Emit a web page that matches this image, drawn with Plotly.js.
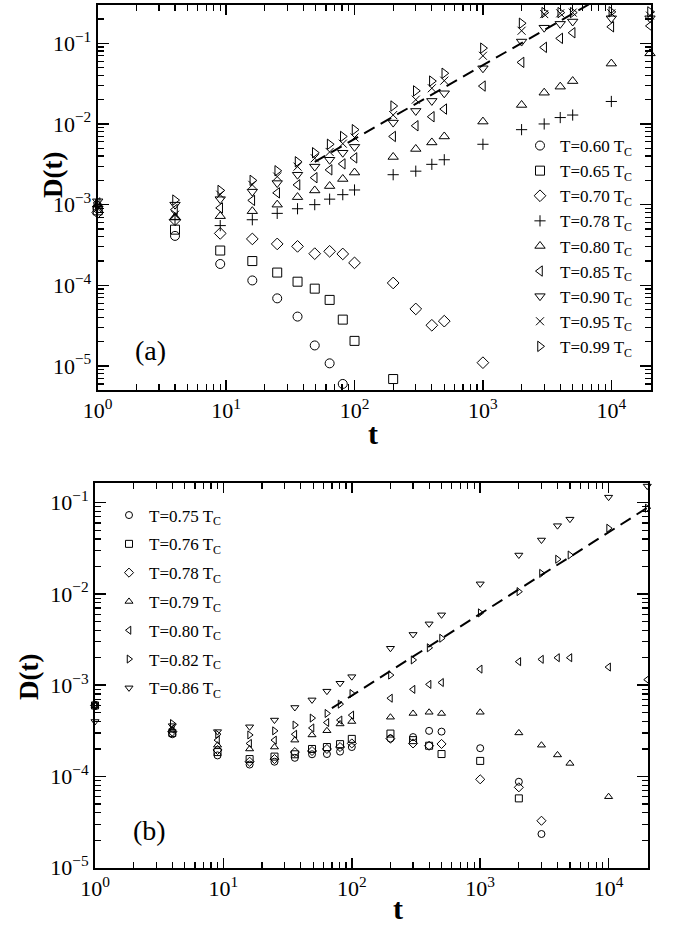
<!DOCTYPE html>
<html>
<head>
<meta charset="utf-8">
<script src="https://cdn.plot.ly/plotly-3.0.1.min.js"></script>
<style>html,body{margin:0;padding:0;background:#fff}#chart{width:673px;height:927px}</style>
</head>
<body>
<div id="chart"></div>
<script>
// ---------- DATA ----------
var times = [1,4,9,16,25,36,49,64,81,100,200,300,400,500,1000,2000,3000,4000,5000,10000,20000];

// panel (a)
var labelsA = ['T=0.60 T<sub>C</sub>','T=0.65 T<sub>C</sub>','T=0.70 T<sub>C</sub>','T=0.78 T<sub>C</sub>','T=0.80 T<sub>C</sub>','T=0.85 T<sub>C</sub>','T=0.90 T<sub>C</sub>','T=0.95 T<sub>C</sub>','T=0.99 T<sub>C</sub>'];
var a060 = [9e-4,4.1e-4,1.84e-4,1.15e-4,6.9e-5,4.1e-5,1.8e-5,1.08e-5,6e-6,null,null,null,null,null,null,null,null,null,null,null,null];
var a065 = [8.5e-4,4.9e-4,2.7e-4,2.0e-4,1.44e-4,1.11e-4,9.1e-5,6.6e-5,3.76e-5,2.05e-5,6.9e-6,null,null,null,null,null,null,null,null,null,null];
var a070 = [8e-4,6.5e-4,4.4e-4,3.76e-4,3.26e-4,3.04e-4,2.47e-4,2.64e-4,2.45e-4,1.9e-4,1.07e-4,5.1e-5,3.2e-5,3.6e-5,1.1e-5,null,null,null,null,null,null];
var a078 = [9.5e-4,6.5e-4,5.5e-4,6.5e-4,7.8e-4,8.9e-4,1.0e-3,1.17e-3,1.33e-3,1.52e-3,2.35e-3,2.6e-3,3.16e-3,3.6e-3,5.6e-3,8.5e-3,1.0e-2,1.2e-2,1.29e-2,1.9e-2,null];
var a080 = [1e-3,7e-4,7.2e-4,8.3e-4,1.0e-3,1.24e-3,1.5e-3,1.7e-3,2.08e-3,2.5e-3,3.9e-3,4.9e-3,5.9e-3,7.0e-3,1.07e-2,1.72e-2,2.44e-2,2.9e-2,3.4e-2,5.6e-2,7.5e-2];
var a085 = [1.05e-3,8.7e-4,9.1e-4,1.13e-3,1.4e-3,1.76e-3,2.16e-3,2.7e-3,3.2e-3,3.8e-3,7.0e-3,9.5e-3,1.23e-2,1.53e-2,2.95e-2,5.8e-2,8.9e-2,0.115,0.135,0.16,0.164];
var a090 = [1.1e-3,1e-3,1.17e-3,1.45e-3,1.85e-3,2.35e-3,2.96e-3,3.6e-3,4.4e-3,5.2e-3,1.04e-2,1.45e-2,1.93e-2,2.4e-2,4.9e-2,0.105,0.156,0.174,0.186,0.204,0.204];
var a095 = [9e-4,7.5e-4,1.33e-3,1.76e-3,2.23e-3,2.96e-3,3.76e-3,4.5e-3,5.7e-3,6.8e-3,1.29e-2,2.0e-2,2.77e-2,3.44e-2,7.0e-2,0.143,0.23,0.235,0.24,0.235,0.22];
var a099 = [1.0e-3,1.14e-3,1.5e-3,2.0e-3,2.63e-3,3.4e-3,4.4e-3,5.6e-3,7.0e-3,8.5e-3,1.67e-2,2.57e-2,3.4e-2,4.25e-2,8.7e-2,0.177,0.24,0.24,0.24,0.245,0.245];
var fitA_t = [49, 10000];
var fitA_D = [3.4e-3, 0.438];

// panel (b)
var labelsB = ['T=0.75 T<sub>C</sub>','T=0.76 T<sub>C</sub>','T=0.78 T<sub>C</sub>','T=0.79 T<sub>C</sub>','T=0.80 T<sub>C</sub>','T=0.82 T<sub>C</sub>','T=0.86 T<sub>C</sub>'];
var b075 = [6e-4,2.9e-4,1.7e-4,1.35e-4,1.45e-4,1.6e-4,1.75e-4,1.76e-4,1.87e-4,2.1e-4,2.6e-4,2.7e-4,3.16e-4,3.1e-4,2.04e-4,8.75e-5,2.34e-5,null,null,null,null];
var b076 = [6e-4,3.0e-4,1.85e-4,1.55e-4,1.65e-4,1.75e-4,2.0e-4,2.1e-4,2.26e-4,2.58e-4,2.95e-4,2.5e-4,2.17e-4,1.76e-4,1.48e-4,5.75e-5,null,null,null,null,null];
var b078 = [6e-4,3.1e-4,1.95e-4,1.45e-4,1.55e-4,1.85e-4,1.9e-4,2.0e-4,2.1e-4,2.3e-4,2.6e-4,2.3e-4,2.17e-4,2.27e-4,9.3e-5,7.6e-5,3.27e-5,null,null,null,null];
var b079 = [6e-4,3.2e-4,2.2e-4,2.0e-4,2.1e-4,2.5e-4,2.85e-4,3.17e-4,3.76e-4,4.0e-4,4.46e-4,4.9e-4,5.05e-4,4.9e-4,5.05e-4,3.0e-4,2.2e-4,1.72e-4,1.39e-4,6.0e-5,null];
var b080 = [6e-4,3.3e-4,2.5e-4,2.3e-4,2.5e-4,2.9e-4,3.4e-4,3.9e-4,4.15e-4,4.7e-4,7.2e-4,9.0e-4,1.02e-3,1.07e-3,1.5e-3,1.81e-3,1.92e-3,2.0e-3,2.0e-3,1.58e-3,1.15e-3];
var b082 = [6e-4,3.8e-4,2.9e-4,2.85e-4,3.16e-4,3.66e-4,4.36e-4,4.9e-4,6.2e-4,8.1e-4,1.29e-3,1.89e-3,2.57e-3,3.27e-3,6.2e-3,1.06e-2,1.68e-2,2.4e-2,2.67e-2,5.25e-2,8.7e-2];
var b086 = [4e-4,3.6e-4,3.1e-4,3.5e-4,4.15e-4,5.7e-4,6.9e-4,8.6e-4,1.05e-3,1.24e-3,2.54e-3,3.6e-3,4.7e-3,5.9e-3,1.29e-2,2.67e-2,3.9e-2,5.6e-2,6.6e-2,0.115,0.152];
var fitB_t = [70, 20000];
var fitB_D = [5.6e-4, 8.8e-2];

var xTickVals = [1,10,100,1000,10000];
var xTickText = ['10<sup>0</sup>','10<sup>1</sup>','10<sup>2</sup>','10<sup>3</sup>','10<sup>4</sup>'];
var yTickVals = [1e-5,1e-4,1e-3,1e-2,1e-1];
var yTickText = ['10<sup>\u22125</sup>','10<sup>\u22124</sup>','10<sup>\u22123</sup>','10<sup>\u22122</sup>','10<sup>\u22121</sup>'];

// ---------- STYLE ----------
var W = 673, H = 927;
var SERIF = '"Liberation Serif", "Times New Roman", serif';
var symA = ['circle-open','square-open','diamond-open','cross-thin-open','triangle-up-open','triangle-left-open','triangle-down-open','x-thin-open','triangle-right-open'];
var sizeA = [9,9,9,8,9,9,9,8,9];
var symB = ['circle-open','square-open','diamond-open','triangle-up-open','triangle-left-open','triangle-right-open','triangle-down-open'];
var seriesA = [a060,a065,a070,a078,a080,a085,a090,a095,a099];
var seriesB = [b075,b076,b078,b079,b080,b082,b086];

function minorVals(d0, d1){
  var v = [];
  for (var d = d0; d <= d1; d++) for (var k = 2; k <= 9; k++) v.push(k*Math.pow(10,d));
  return v;
}

var traces = [];
seriesA.forEach(function(s,i){
  traces.push({x: times, y: s, type:'scatter', mode:'markers', name: labelsA[i],
    xaxis:'x', yaxis:'y', legend:'legend', cliponaxis:false,
    marker:{symbol: symA[i], size: sizeA[i], color:'black', line:{color:'black', width:1}}});
});
traces.push({x: fitA_t, y: fitA_D, type:'scatter', mode:'lines', showlegend:false,
  xaxis:'x', yaxis:'y', line:{color:'black', width:2, dash:'12px,7px'}});
seriesB.forEach(function(s,i){
  traces.push({x: times, y: s, type:'scatter', mode:'markers', name: labelsB[i],
    xaxis:'x2', yaxis:'y2', legend:'legend2', legendgroup:'g'+i, cliponaxis:false,
    marker:{symbol: symB[i], size: 7, color:'black', line:{color:'black', width:1}}});
});
traces.push({x: fitB_t, y: fitB_D, type:'scatter', mode:'lines', showlegend:false,
  xaxis:'x2', yaxis:'y2', line:{color:'black', width:2, dash:'12px,7px'}});

function xax(domain, range, anchor){
  return {type:'log', domain: domain, range: range, anchor: anchor,
    tickmode:'array', tickvals: xTickVals, ticktext: xTickText,
    ticks:'inside', ticklen: 10, tickwidth: 1.5, tickcolor:'black',
    showline:true, linecolor:'black', linewidth:2, mirror:'allticks',
    showgrid:false, zeroline:false,
    tickfont:{family: SERIF, size: 22, color:'black'},
    minor:{tickmode:'array', tickvals: minorVals(0,4), ticks:'inside', ticklen:6, tickwidth:1.2, tickcolor:'black', showgrid:false}};
}
function yax(domain, range, anchor){
  return {type:'log', domain: domain, range: range, anchor: anchor,
    tickmode:'array', tickvals: yTickVals, ticktext: yTickText,
    ticks:'inside', ticklen: 11, tickwidth: 1.5, tickcolor:'black',
    showline:true, linecolor:'black', linewidth:2, mirror:'allticks',
    showgrid:false, zeroline:false,
    tickfont:{family: SERIF, size: 22, color:'black'},
    minor:{tickmode:'array', tickvals: minorVals(-6,0), ticks:'inside', ticklen:6, tickwidth:1.2, tickcolor:'black', showgrid:false}};
}

function px(x){ return x/W; }
function py(y){ return 1 - y/H; }

var legendBase = {font:{family: SERIF, size:17, color:'black'}, bgcolor:'rgba(0,0,0,0)',
  borderwidth:0, xanchor:'left', yanchor:'top', itemwidth:30, itemclick:false};

var layout = {
  width: W, height: H, margin:{l:0,r:0,t:0,b:0},
  paper_bgcolor:'white', plot_bgcolor:'white',
  font:{family: SERIF, color:'black'},
  xaxis: xax([px(97.7), px(650.5)], [0, 4.305], 'y'),
  yaxis: yax([py(390), py(4.7)], [-5.297, -0.522], 'x'),
  xaxis2: xax([px(95), px(647.5)], [0, 4.303], 'y2'),
  yaxis2: yax([py(867.7), py(482.7)], [-5, -0.781], 'x2'),
  legend: Object.assign({}, legendBase, {x: px(520), y: py(128)}),
  legend2: Object.assign({}, legendBase, {x: px(109), y: py(497.5), tracegroupgap: 3.7}),
  showlegend: true,
  annotations: [
    {text:'D(t)', xref:'paper', yref:'paper', x: px(53), y: py(175), textangle:-90, showarrow:false,
      xanchor:'center', yanchor:'middle', font:{family: SERIF, size:27, color:'black', weight:'bold'}},
    {text:'t', xref:'paper', yref:'paper', x: px(373), y: py(433), showarrow:false,
      xanchor:'center', yanchor:'middle', font:{family: SERIF, size:30, color:'black', weight:'bold'}},
    {text:'(a)', xref:'paper', yref:'paper', x: px(150), y: py(350), showarrow:false,
      xanchor:'center', yanchor:'middle', font:{family: SERIF, size:28, color:'black'}},
    {text:'D(t)', xref:'paper', yref:'paper', x: px(29), y: py(677), textangle:-90, showarrow:false,
      xanchor:'center', yanchor:'middle', font:{family: SERIF, size:27, color:'black', weight:'bold'}},
    {text:'t', xref:'paper', yref:'paper', x: px(398), y: py(908), showarrow:false,
      xanchor:'center', yanchor:'middle', font:{family: SERIF, size:30, color:'black', weight:'bold'}},
    {text:'(b)', xref:'paper', yref:'paper', x: px(149), y: py(830), showarrow:false,
      xanchor:'center', yanchor:'middle', font:{family: SERIF, size:28, color:'black'}}
  ]
};

Plotly.newPlot('chart', traces, layout, {displayModeBar:false, staticPlot:true});
</script>
</body>
</html>
